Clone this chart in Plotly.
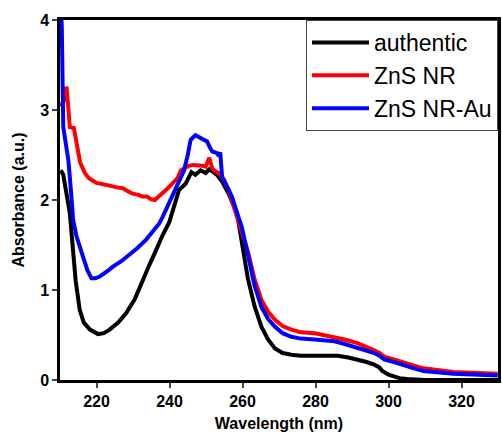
import plotly.graph_objects as go

# authentic
x_auth = [210.2, 210.9, 212.7, 213.5, 214.3, 215.4, 216.5, 218.2, 220.4, 222.0, 223.6, 226.0, 228.1,
          230.5, 232.6, 234.5, 236.3, 238.0, 239.9, 241.3, 242.6, 244.4, 246.0, 247.1, 248.5, 249.9,
          250.9, 252.0, 253.0, 254.5, 256.2, 258.5, 260.0, 261.5, 263.3, 265.2, 267.0, 268.9, 271.0,
          273.4, 276.0, 279.8, 283.0, 286.1, 289.0, 291.5, 294.0, 296.1, 297.5, 298.3, 300.0, 301.5,
          303.0, 305.1, 310.0, 330.0]
y_auth = [2.33, 2.28, 1.85, 1.50, 1.10, 0.78, 0.64, 0.56, 0.51, 0.52, 0.56, 0.64, 0.74,
          0.90, 1.11, 1.28, 1.44, 1.60, 1.75, 1.95, 2.11, 2.18, 2.31, 2.28, 2.33, 2.30,
          2.34, 2.31, 2.28, 2.20, 2.07, 1.85, 1.45, 1.12, 0.82, 0.59, 0.45, 0.35, 0.30,
          0.28, 0.27, 0.27, 0.275, 0.27, 0.25, 0.23, 0.20, 0.17, 0.14, 0.10, 0.06, 0.04,
          0.02, 0.01, 0.0, 0.0]

# ZnS NR
x_nr = [210.2, 211.0, 211.8, 212.3, 212.7, 213.8, 214.7, 215.5, 216.8, 218.0, 220.0, 221.5, 223.6,
        225.5, 227.2, 228.5, 229.9, 231.2, 232.6, 233.8, 234.9, 236.0, 237.2, 238.0, 239.0, 240.0,
        241.3, 242.3, 243.1, 244.2, 245.3, 246.5, 248.0, 249.0, 249.9, 250.9, 251.7, 252.5, 253.5,
        255.0, 256.2, 257.5, 258.9, 260.0, 261.6, 263.3, 265.2, 267.0, 268.9, 271.0, 273.4, 276.0,
        279.8, 282.5, 285.2, 288.0, 291.5, 294.0, 296.1, 297.5, 298.8, 301.5, 304.2, 307.0, 309.6,
        313.0, 317.8, 323.0, 329.9]
y_nr = [3.04, 3.10, 3.26, 3.00, 2.81, 2.80, 2.56, 2.42, 2.30, 2.24, 2.19, 2.18, 2.16,
        2.14, 2.13, 2.10, 2.07, 2.06, 2.04, 2.04, 2.01, 2.00, 2.04, 2.07, 2.11, 2.15,
        2.20, 2.25, 2.33, 2.36, 2.38, 2.39, 2.39, 2.38, 2.37, 2.47, 2.35, 2.32, 2.30,
        2.22, 2.11, 1.95, 1.78, 1.62, 1.41, 1.12, 0.89, 0.76, 0.67, 0.60, 0.56, 0.53,
        0.52, 0.50, 0.48, 0.45, 0.41, 0.37, 0.33, 0.30, 0.26, 0.23, 0.19, 0.16, 0.13,
        0.11, 0.09, 0.08, 0.07]

# ZnS NR-Au
x_au = [210.2, 210.5, 210.9, 211.6, 212.3, 213.0, 213.6, 214.5, 215.3, 216.3, 217.5, 218.6, 219.7,
        220.9, 222.7, 224.5, 226.8, 229.0, 231.3, 233.6, 235.5, 237.2, 238.1, 240.0, 241.7, 243.0,
        244.0, 245.0, 245.8, 247.1, 248.0, 248.9, 250.3, 251.1, 251.7, 253.0, 253.5, 253.9, 254.4,
        255.5, 257.1, 258.5, 259.8, 261.6, 263.3, 265.2, 267.0, 268.9, 271.0, 273.4, 276.0, 279.8,
        282.5, 285.2, 288.0, 291.5, 294.0, 296.1, 297.5, 298.8, 301.5, 304.2, 307.0, 309.6, 313.0,
        317.8, 323.0, 329.9]
y_au = [4.30, 3.90, 2.81, 2.60, 2.44, 2.10, 1.78, 1.60, 1.48, 1.37, 1.22, 1.13, 1.13,
        1.15, 1.20, 1.26, 1.32, 1.39, 1.47, 1.56, 1.65, 1.74, 1.81, 1.98, 2.15, 2.25,
        2.33, 2.50, 2.67, 2.72, 2.70, 2.67, 2.65, 2.58, 2.54, 2.52, 2.49, 2.53, 2.26,
        2.17, 2.04, 1.86, 1.70, 1.37, 1.05, 0.81, 0.68, 0.59, 0.52, 0.48, 0.46, 0.45,
        0.44, 0.43, 0.40, 0.36, 0.33, 0.30, 0.27, 0.23, 0.20, 0.16, 0.13, 0.10, 0.085,
        0.07, 0.06, 0.05]

x_ticks = [220, 240, 260, 280, 300, 320]
y_ticks = [0, 1, 2, 3, 4]

FONT = "Liberation Sans, Arial, sans-serif"

fig = go.Figure()
fig.add_trace(go.Scatter(x=x_auth, y=y_auth, mode="lines", name="authentic",
                         line=dict(color="#000000", width=4)))
fig.add_trace(go.Scatter(x=x_nr, y=y_nr, mode="lines", name="ZnS NR",
                         line=dict(color="#ff0000", width=4)))
fig.add_trace(go.Scatter(x=x_au, y=y_au, mode="lines", name="ZnS NR-Au",
                         line=dict(color="#0000ff", width=4)))

fig.update_layout(
    width=502, height=432,
    margin=dict(l=60, r=1, t=20, b=52),
    paper_bgcolor="white", plot_bgcolor="white",
    font=dict(family=FONT, color="black"),
    legend=dict(x=1, xanchor="right", y=1, yanchor="top",
                bordercolor="#444444", borderwidth=1, bgcolor="white",
                font=dict(family=FONT, size=23, color="black"),
                tracegroupgap=0, itemwidth=57),
    showlegend=True,
)
fig.update_xaxes(range=[210, 330], tickvals=x_ticks, ticks="outside", ticklen=5, tickwidth=2,
                 showline=True, linewidth=2.5, linecolor="black", mirror=True,
                 showgrid=False, zeroline=False,
                 tickfont=dict(family=FONT, size=16, weight="bold", color="black"),
                 title=dict(text="Wavelength (nm)", standoff=9,
                            font=dict(family=FONT, size=16, weight="bold", color="black")))
fig.update_yaxes(range=[0, 4], tickvals=y_ticks, ticks="outside", ticklen=5, tickwidth=2,
                 showline=True, linewidth=2.5, linecolor="black", mirror=True,
                 showgrid=False, zeroline=False,
                 tickfont=dict(family=FONT, size=16, weight="bold", color="black"),
                 title=dict(text="Absorbance (a.u.)", standoff=12,
                            font=dict(family=FONT, size=16, weight="bold", color="black")))

fig.write_html("out.html")
